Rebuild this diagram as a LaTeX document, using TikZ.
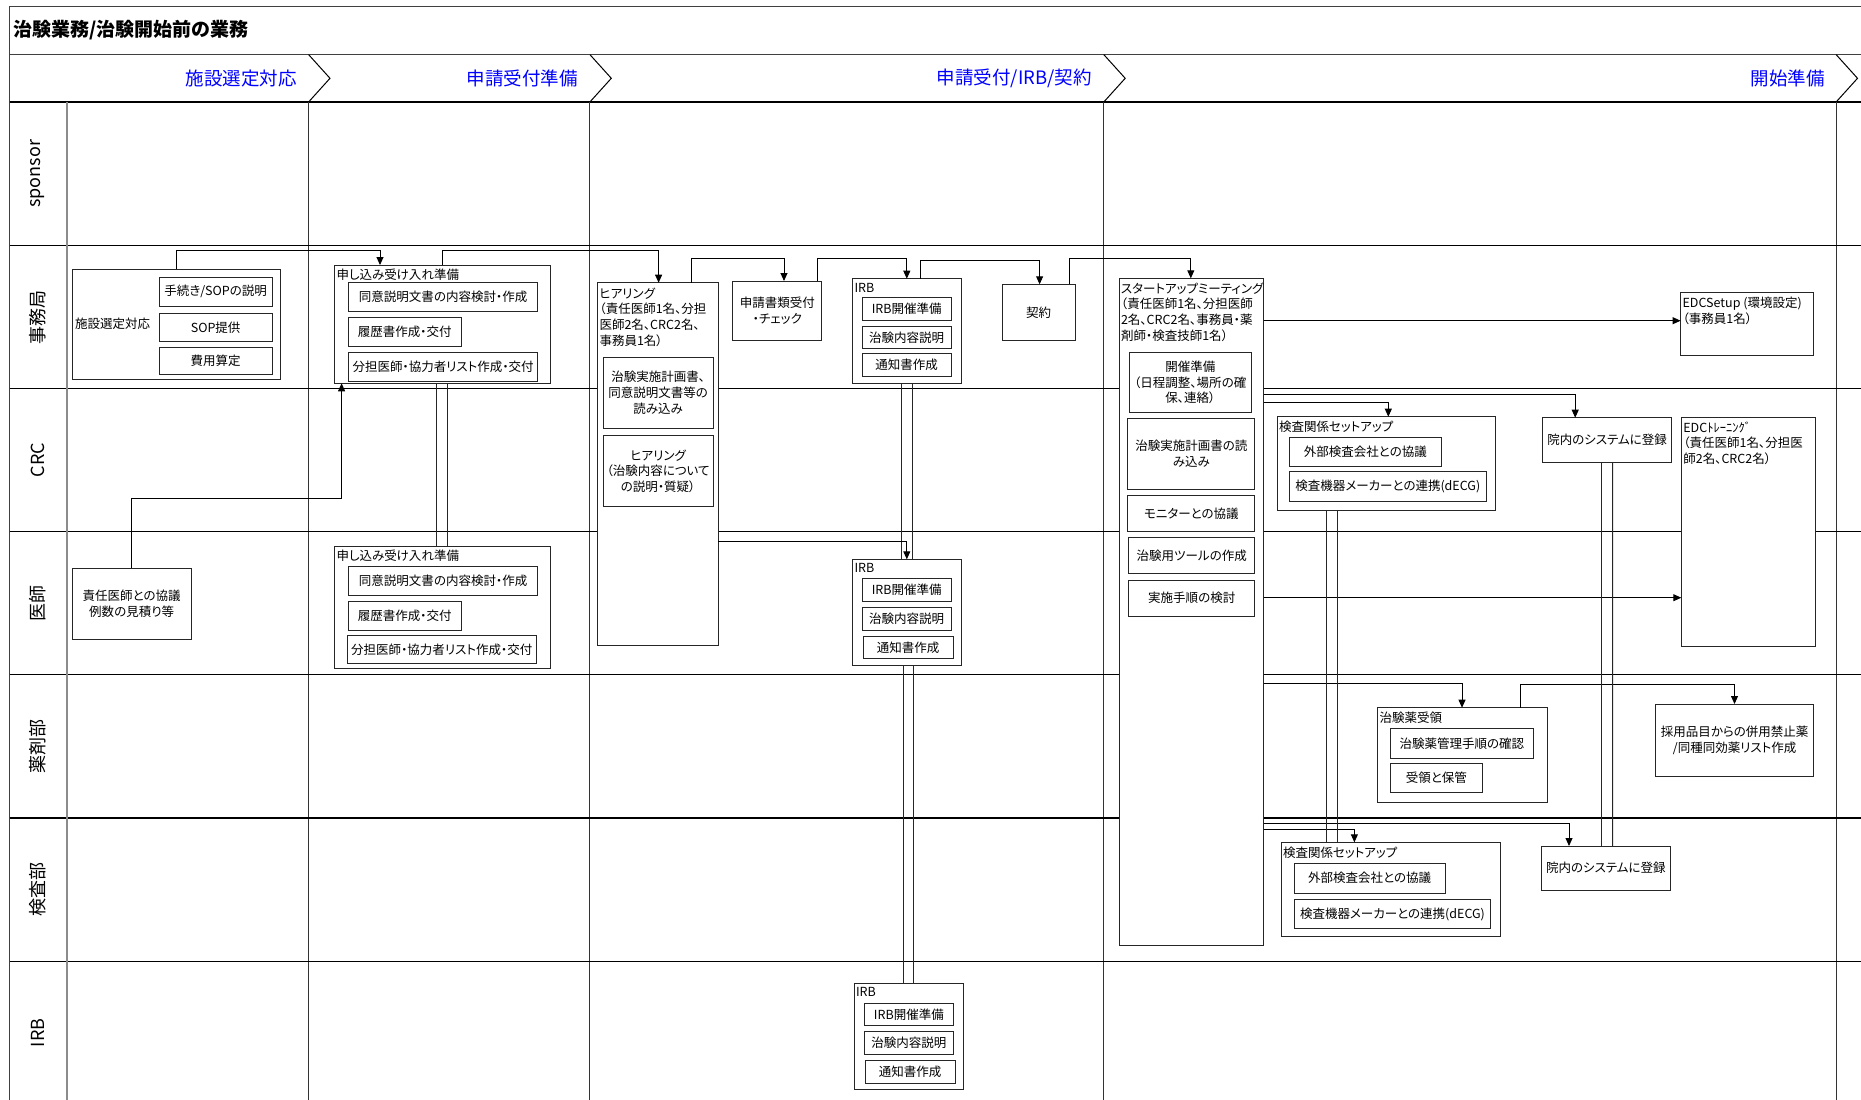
\documentclass[tikz,border=0pt]{standalone}
\usepackage{fontspec}
\setmainfont{Noto Sans CJK JP}[RawFeature={+palt}]
\usetikzlibrary{arrows.meta,calc}
\newcommand\fsbox{\fontsize{12.5}{15.8}\selectfont}
\newcommand\fstitle{\fontsize{19}{22}\selectfont\bfseries}
\newcommand\fsphase{\fontsize{18.5}{22}\selectfont}
\newcommand\fslane{\fontsize{18}{20}\selectfont}
\tikzset{
  bx/.style={draw=black!85, line width=0.9pt, fill=white, inner sep=1pt, outer sep=0pt, align=center, font=\fsbox},
  ttl/.style={inner sep=0pt, outer sep=0pt, align=left, anchor=north west, font=\fsbox},
  arr/.style={draw=black, line width=0.9pt, -{Triangle[length=8pt,width=7pt]}},
  ln/.style={draw=black!85, line width=0.9pt},
  lanel/.style={draw=black, line width=1.3pt},
  frame/.style={draw=black!75, line width=1.5pt},
  chev/.style={draw=black, line width=1pt},
  colline/.style={draw=black!80, line width=1pt},
  sepline/.style={draw=black!45, line width=2pt},
  lanelab/.style={rotate=90, font=\fslane, inner sep=0pt},
  phase/.style={anchor=east, font=\fsphase, text=blue, inner sep=0pt}
}
\newcommand\swbox[7][]{\node[bx,#1,anchor=north west,minimum width={(#5)-(#3)},minimum height={(#6)-(#4)}] (#2) at (#3,#4) {#7};}
\begin{document}
\begin{tikzpicture}[x=1pt,y=-1pt]
\useasboundingbox (0,0) rectangle (1861,1100);
\clip (0,0) rectangle (1861,1100);
\fill[white] (0,0) rectangle (1861,1100);
% frame and grid
\draw[frame] (1870,6.5) -- (9.5,6.5) -- (9.5,1110);
\draw[frame] (9.5,54.6) -- (1870,54.6);
\draw[lanel] (9.5,102) -- (1870,102);
\foreach \b in {308.6,589.9,1103.8,1836.1} {
  \draw[chev] (\b,54.6) -- (\b+21.4,78.3) -- (\b,102);
  \draw[colline] (\b,102) -- (\b,1110);
}
\foreach \y in {245.7,388.4,531.6,674.8,818,961.2} \draw[lanel] (9.5,\y) -- (1870,\y);
\draw[sepline] (66.5,102) -- (66.5,1110);
% title and phases
\node[anchor=west, font=\fstitle, inner sep=0pt] (title) at (13,30.5) {治験業務/治験開始前の業務};
\node[phase] (ph1) at (297,78.3) {施設選定対応};
\node[phase] (ph2) at (578,78.3) {申請受付準備};
\node[phase] (ph3) at (1092,78.3) {申請受付/IRB/契約};
\node[phase] (ph4) at (1825,78.3) {開始準備};
% lane labels
\node[lanelab] (l1) at (38,173.9) {sponsor};
\node[lanelab] (l2) at (38,317) {事務局};
\node[lanelab] (l3) at (38,460) {CRC};
\node[lanelab] (l4) at (38,603.2) {医師};
\node[lanelab] (l5) at (38,746.4) {薬剤部};
\node[lanelab] (l6) at (38,889.6) {検査部};
\node[lanelab] (l7) at (38,1032.8) {IRB};
% phase 1
\swbox{sel}{72.4}{269.3}{280.7}{379}{}
\node[anchor=west, inner sep=0pt, font=\fsbox] (selt) at (75,323.5) {施設選定対応};
\swbox{sel1}{159.3}{277.7}{272}{306}{手続き/SOPの説明}
\swbox{sel2}{159.3}{313.7}{272}{341}{SOP提供}
\swbox{sel3}{159.3}{347.7}{272}{374.3}{費用算定}
\swbox{doc}{72.4}{568.3}{191}{639.3}{責任医師との協議\\例数の見積り等}
% phase 2
\swbox{mo1}{334.5}{265}{550.8}{383.3}{}
\node[ttl] (mo1t) at (336.5,268.5) {申し込み受け入れ準備};
\swbox{mo1a}{348.4}{282.7}{537.8}{311.7}{同意説明文書の内容検討・作成}
\swbox{mo1b}{348.4}{317.7}{461}{346.7}{履歴書作成・交付}
\swbox{mo1c}{348.4}{352.3}{537.8}{381.7}{分担医師・協力者リスト作成・交付}
\swbox{mo2}{334.5}{546.7}{550.8}{668}{}
\node[ttl] (mo2t) at (336.5,550.2) {申し込み受け入れ準備};
\swbox{mo2a}{348.4}{566.3}{537.8}{595.7}{同意説明文書の内容検討・作成}
\swbox{mo2b}{348.4}{601}{461}{630.3}{履歴書作成・交付}
\swbox{mo2c}{347.2}{635}{536.2}{663.7}{分担医師・協力者リスト作成・交付}
% phase 3
\swbox{hear}{597.9}{282.7}{718}{645}{}
\node[ttl] (heart) at (599.5,287.5) {ヒアリング\\（責任医師1名、分担\\医師2名、CRC2名、\\事務員1名）};
\swbox{hear1}{603}{357.3}{713.3}{428.5}{治験実施計画書、\\同意説明文書等の\\読み込み}
\swbox{hear2}{603}{435.6}{713.3}{506.8}{ヒアリング\\（治験内容について\\の説明・質疑）}
\swbox{app}{732.9}{281}{821.8}{340.7}{申請書類受付\\・チェック}
\swbox{irb1}{852.5}{278.7}{961.4}{383.7}{}
\node[ttl] (irb1t) at (854.5,283) {IRB};
\swbox{irb1a}{862}{297.7}{951.4}{320}{IRB開催準備}
\swbox{irb1b}{862}{326.3}{951.4}{348.7}{治験内容説明}
\swbox{irb1c}{862}{353.3}{951.4}{376}{通知書作成}
\swbox{con}{1002}{284.3}{1075.4}{340.7}{契約}
\swbox{irb2}{852.5}{559.3}{961.4}{665}{}
\node[ttl] (irb2t) at (854.5,563.5) {IRB};
\swbox{irb2a}{862}{578.7}{951.4}{601.3}{IRB開催準備}
\swbox{irb2b}{862}{607.3}{951.4}{630}{治験内容説明}
\swbox{irb2c}{863.2}{636}{953.2}{658.7}{通知書作成}
\swbox{irb3}{854}{983.3}{963}{1089}{}
\node[ttl] (irb3t) at (856,987.5) {IRB};
\swbox{irb3a}{864}{1003}{953.7}{1025.7}{IRB開催準備}
\swbox{irb3b}{864}{1031.7}{953.7}{1054.3}{治験内容説明}
\swbox{irb3c}{865.3}{1060.3}{955}{1083}{通知書作成}
% phase 4
\swbox{sm}{1119.4}{278.3}{1263.6}{945.7}{}
\node[ttl] (smt) at (1121,282.5) {スタートアップミーティング\\（責任医師1名、分担医師\\2名、CRC2名、事務員・薬\\剤師・検査技師1名）};
\swbox{sm1}{1129}{352.7}{1251.5}{412.3}{開催準備\\（日程調整、場所の確\\保、連絡）}
\swbox{sm2}{1127.7}{418.3}{1254.9}{489.7}{治験実施計画書の読\\み込み}
\swbox{sm3}{1127.7}{495.7}{1254.9}{531.3}{モニターとの協議}
\swbox{sm4}{1128.6}{537.3}{1254.9}{573.3}{治験用ツールの作成}
\swbox{sm5}{1128.6}{580}{1254.9}{616}{実施手順の検討}
\swbox{edcs}{1680.6}{292.7}{1813.6}{355.3}{}
\node[ttl] (edcst) at (1682.6,297) {EDCSetup (環境設定)\\（事務員1名）};
\swbox{ks1}{1277.2}{416.7}{1495.6}{510.7}{}
\node[ttl] (ks1t) at (1279,421) {検査関係セットアップ};
\swbox{ks1a}{1289.3}{437.3}{1441.3}{466.7}{外部検査会社との協議}
\swbox{ks1b}{1289.3}{471.7}{1486.4}{501.3}{検査機器メーカーとの連携(dECG)}
\swbox{in1}{1542.7}{417.7}{1671.4}{462.3}{院内のシステムに登録}
\swbox{edct}{1681.3}{417.3}{1815}{646}{}
\node[ttl] (edctt) at (1683.3,421.5) {EDCﾄﾚｰﾆﾝｸﾞ\\（責任医師1名、分担医\\師2名、CRC2名）};
\swbox{dr}{1377.7}{707.7}{1547}{802}{}
\node[ttl] (drt) at (1379.5,712) {治験薬受領};
\swbox{dra}{1390.3}{728.7}{1533.5}{758}{治験薬管理手順の確認}
\swbox{drb}{1390.3}{763.3}{1482.5}{792.3}{受領と保管}
\swbox{adopt}{1655.7}{704}{1813.7}{776.5}{採用品目からの併用禁止薬\\/同種同効薬リスト作成}
\swbox{ks2}{1281}{842.3}{1500}{936.7}{}
\node[ttl] (ks2t) at (1283,846.5) {検査関係セットアップ};
\swbox{ks2a}{1294.2}{863.3}{1445.1}{893}{外部検査会社との協議}
\swbox{ks2b}{1294.2}{899.3}{1490.8}{928.7}{検査機器メーカーとの連携(dECG)}
\swbox{in2}{1541.3}{846}{1670.4}{890.3}{院内のシステムに登録}
% connectors
\draw[arr] ($(sel.north west)+(104,0)$) -- ++(0,-18.6) -| ($(mo1.north west)+(45.5,0)$);
\draw[arr] (doc.north) -- ++(0,-69.8) -| ($(mo1.south west)+(7.1,0)$);
\draw[arr] ($(mo1.north west)+(107.5,0)$) -- ++(0,-14.3) -| ($(hear.north west)+(60.7,0)$);
\draw[ln] ($(mo1.south west)+(102,0)$) -- ($(mo2.north west)+(102,0)$);
\draw[ln] ($(mo1.south west)+(112.5,0)$) -- ($(mo2.north west)+(112.5,0)$);
\draw[arr] ($(hear.north west)+(93.5,0)$) -- ++(0,-24) -| ($(app.north west)+(51.1,0)$);
\draw[arr] ($(app.north west)+(84.6,0)$) -- ++(0,-22.3) -| ($(irb1.north west)+(54.3,0)$);
\draw[arr] ($(irb1.north west)+(67.9,0)$) -- ++(0,-18.7) -| ($(con.north west)+(37.6,0)$);
\draw[arr] ($(con.north west)+(67.3,0)$) -- ++(0,-25.6) -| ($(sm.north west)+(71.4,0)$);
\draw[ln] ($(irb1.south west)+(49,0)$) -- ($(irb2.north west)+(49,0)$);
\draw[ln] ($(irb1.south west)+(60.4,0)$) -- ($(irb2.north west)+(60.4,0)$);
\draw[ln] ($(irb2.south west)+(50.5,0)$) -- ($(irb3.north west)+(49,0)$);
\draw[ln] ($(irb2.south west)+(61,0)$) -- ($(irb3.north west)+(59.5,0)$);
\draw[arr] ($(hear.north east)+(0,258.3)$) -| ($(irb2.north west)+(54.3,0)$);
\draw[arr] ($(sm.north east)+(0,42.4)$) -- ($(edcs.north west)+(0,28)$);
\draw[arr] ($(sm.north east)+(0,124)$) -| ($(ks1.north west)+(111.1,0)$);
\draw[arr] ($(sm.north east)+(0,115.7)$) -| ($(in1.north west)+(32.5,0)$);
\draw[arr] ($(sm.north east)+(0,319.4)$) -- ($(edct.north west)+(0,180.4)$);
\draw[arr] ($(sm.north east)+(0,405)$) -| ($(dr.north west)+(84.3,0)$);
\draw[arr] ($(dr.north west)+(142.3,0)$) -- ++(0,-23.7) -| ($(adopt.north west)+(78.8,0)$);
\draw[arr] ($(sm.north east)+(0,545)$) -| ($(in2.north west)+(27.7,0)$);
\draw[arr] ($(sm.north east)+(0,551)$) -| ($(ks2.north west)+(73.4,0)$);
\draw[ln] ($(ks1.south west)+(49.5,0)$) -- ($(ks2.north west)+(45.7,0)$);
\draw[ln] ($(ks1.south west)+(60.2,0)$) -- ($(ks2.north west)+(56.4,0)$);
\draw[ln] ($(in1.south west)+(58.8,0)$) -- ($(in2.north west)+(60.2,0)$);
\draw[ln] ($(in1.south west)+(69.9,0)$) -- ($(in2.north west)+(71.3,0)$);
\end{tikzpicture}
\end{document}
